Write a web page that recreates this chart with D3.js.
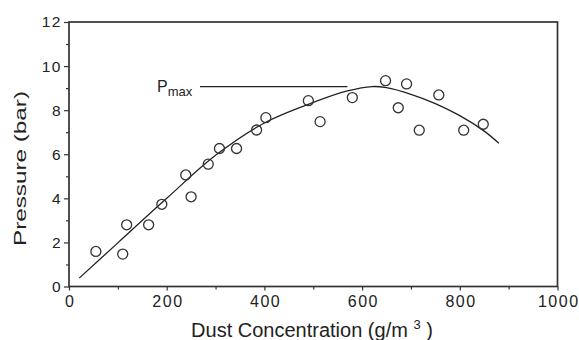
<!DOCTYPE html>
<html><head><meta charset="utf-8">
<script src="https://cdn.jsdelivr.net/npm/d3@7"></script>
<style>
body{margin:0;background:#fff;}
text{font-family:"Liberation Sans",Arial,Helvetica,sans-serif;fill:#222;}
</style></head>
<body><svg id="c" width="579" height="340"></svg>
<script>
// Data
const pointX = [55, 110, 118, 163, 190, 239, 250, 285, 308, 343, 384, 403, 490, 514, 580, 648, 674, 691, 717, 757, 808, 848];
const pointY = [1.59, 1.47, 2.8, 2.8, 3.73, 5.06, 4.07, 5.55, 6.26, 6.26, 7.1, 7.66, 8.43, 7.48, 8.57, 9.34, 8.11, 9.19, 7.09, 8.69, 7.09, 7.36];
const curveX = [21, 100, 200, 300, 400, 500, 570, 620, 650, 700, 750, 800, 850, 880];
const curveY = [0.38, 1.98, 4.0, 5.95, 7.42, 8.35, 8.87, 9.07, 9.02, 8.72, 8.3, 7.75, 7.05, 6.5];
const xTicks = [0, 200, 400, 600, 800, 1000];
const yTicks = [0, 2, 4, 6, 8, 10, 12];
const xMinor = [100, 300, 500, 700, 900];
const yMinor = [1, 3, 5, 7, 9, 11];
const pmaxLevel = 9.07;

const svg = d3.select("#c");
const x = d3.scaleLinear().domain([0, 1000]).range([69, 557.5]);
const y = d3.scaleLinear().domain([0, 12]).range([286.5, 22]);
const col = "#333";

// frame
svg.append("rect").attr("x", x(0)).attr("y", y(12)).attr("width", x(1000)-x(0)).attr("height", y(0)-y(12))
  .attr("fill","none").attr("stroke", col).attr("stroke-width", 1.7);

// axes
const xAxis = d3.axisBottom(x).tickValues(xTicks).tickSize(4).tickPadding(5).tickFormat(d3.format("d"));
const gx = svg.append("g").attr("transform", `translate(0,${y(0)})`).call(xAxis);
const xAxisMinor = d3.axisBottom(x).tickValues(xMinor).tickSize(3).tickFormat("");
const gx2 = svg.append("g").attr("transform", `translate(0,${y(0)})`).call(xAxisMinor);
const yAxis = d3.axisLeft(y).tickValues(yTicks).tickSize(5).tickPadding(2).tickFormat(d3.format("d"));
const gy = svg.append("g").attr("transform", `translate(${x(0)},0)`).call(yAxis);
const yAxisMinor = d3.axisLeft(y).tickValues(yMinor).tickSize(3).tickFormat("");
const gy2 = svg.append("g").attr("transform", `translate(${x(0)},0)`).call(yAxisMinor);
[gx, gx2, gy, gy2].forEach(g => {
  g.select(".domain").remove();
  g.selectAll("line").attr("stroke", col).attr("stroke-width", 1.2);
  g.selectAll("text").attr("font-family", '"Liberation Sans",Arial,sans-serif').attr("fill", "#2a2a2a");
});
gx.selectAll("text").attr("font-size", 16).attr("letter-spacing", "1.5px").attr("dx", "0.75px");
gy.selectAll("text").attr("font-size", 15.5).attr("letter-spacing", "1.5px");

// axis titles
const xt = svg.append("text").attr("x", 312).attr("y", 337).attr("text-anchor","middle").attr("font-size", 20);
xt.append("tspan").text("Dust Concentration (g/m ");
xt.append("tspan").attr("dy", -8).attr("font-size", 13).text("3");
xt.append("tspan").attr("dy", 8).text(" )");
svg.append("text").attr("transform", "translate(26,168.5) rotate(-90)").attr("text-anchor","middle")
  .attr("font-size", 17).attr("textLength", 155).attr("lengthAdjust", "spacingAndGlyphs").text("Pressure (bar)");

// fitted curve
const line = d3.line().x((d,i)=>x(curveX[i])).y((d,i)=>y(curveY[i])).curve(d3.curveCatmullRom);
svg.append("path").datum(curveX).attr("d", line).attr("fill","none").attr("stroke", "#222").attr("stroke-width", 1.3);

// Pmax line and label
svg.append("line").attr("x1", 200).attr("x2", x(570)).attr("y1", y(pmaxLevel)).attr("y2", y(pmaxLevel))
  .attr("stroke", "#222").attr("stroke-width", 1.2);
const pl = svg.append("text").attr("x", 157).attr("y", y(pmaxLevel)+5).attr("font-size", 16).text("P");
pl.append("tspan").attr("dy", 4).attr("font-size", 13).text("max");

// points
svg.append("g").selectAll("circle").data(pointX).join("circle")
  .attr("cx", (d)=>x(d)).attr("cy", (d,i)=>y(pointY[i])).attr("r", 5)
  .attr("fill", "none").attr("stroke", "#333").attr("stroke-width", 1.3);
</script></body></html>
